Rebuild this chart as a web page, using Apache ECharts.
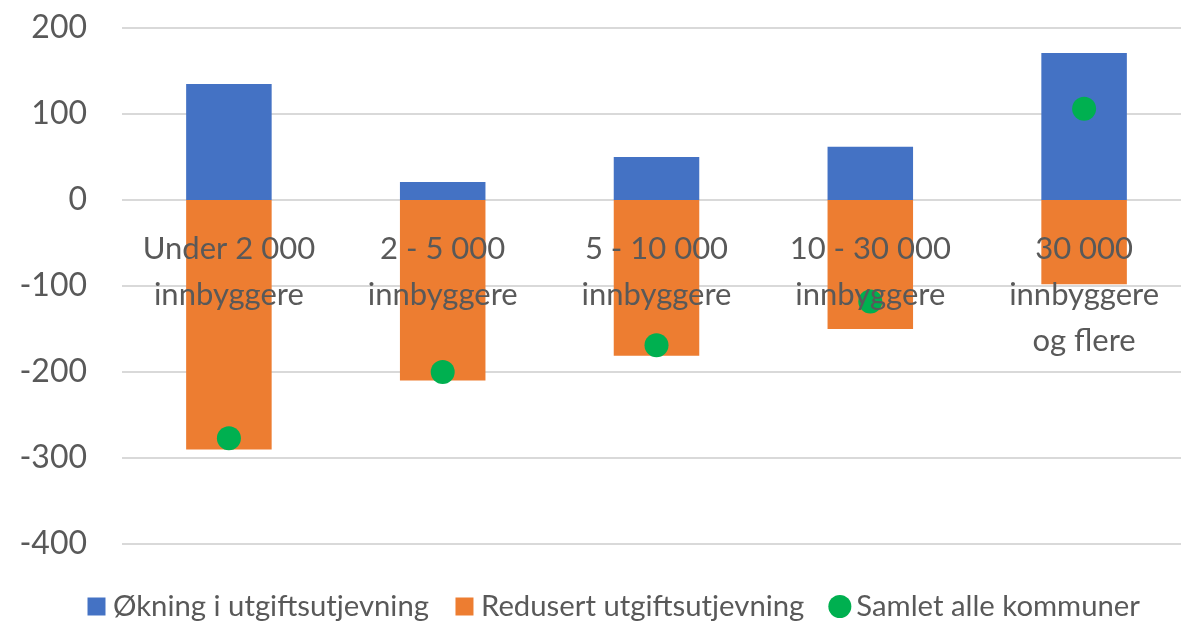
<!DOCTYPE html>
<html>
<head>
<meta charset="utf-8">
<script src="https://cdn.jsdelivr.net/npm/echarts@6/dist/echarts.min.js"></script>
<style>html,body{margin:0;padding:0;background:#fff}#c{width:1181px;height:622px}</style>
</head>
<body>
<div id="c"></div>
<script>
const categories = ["Under 2 000\ninnbyggere", "2 - 5 000\ninnbyggere", "5 - 10 000\ninnbyggere", "10 - 30 000\ninnbyggere", "30 000\ninnbyggere\nog flere"];
const okning = [135, 21, 50, 62, 171];
const redusert = [-290, -210, -181, -150, -98];
const samlet = [-277, -200, -169, -118, 106];
const seriesNames = ["Økning i utgiftsutjevning", "Redusert utgiftsutjevning", "Samlet alle kommuner"];

const chart = echarts.init(document.getElementById('c'), null, {renderer: 'canvas'});
const txt = '#595959';
const font = 'Lato';
const squareIcon = 'path://M0,0L0,0M23,23L23,23M2.5,2.5H20.5V20.5H2.5Z';
chart.setOption({
  animation: false,
  grid: {left: 122, right: -10, top: 28, bottom: 78, containLabel: false, outerBoundsMode: 'none'},
  xAxis: {
    type: 'category', data: categories, offset: -344, z: 10,
    axisLine: {show: false}, axisTick: {show: false},
    axisLabel: {interval: 0, color: txt, fontFamily: font, fontSize: 31, lineHeight: 46, margin: 26}
  },
  yAxis: {
    type: 'value', min: -400, max: 200, interval: 100,
    axisLine: {show: false}, axisTick: {show: false},
    axisLabel: {color: txt, fontFamily: font, fontSize: 32, margin: 35},
    splitLine: {lineStyle: {color: '#d9d9d9', width: 2}}
  },
  legend: {
    bottom: -4, left: 80, itemGap: 24, itemWidth: 23, itemHeight: 23,
    textStyle: {color: txt, fontFamily: font, fontSize: 29.3},
    data: [
      {name: seriesNames[0], icon: squareIcon},
      {name: seriesNames[1], icon: squareIcon},
      {name: seriesNames[2], icon: 'circle'}
    ]
  },
  series: [
    {name: seriesNames[0], type: 'bar', stack: 's', data: okning, barWidth: '40%', itemStyle: {color: '#4472c4'}},
    {name: seriesNames[1], type: 'bar', stack: 's', data: redusert, barWidth: '40%', itemStyle: {color: '#ed7d31'}},
    {name: seriesNames[2], type: 'scatter', data: samlet, symbolSize: 24, itemStyle: {color: '#00b050', opacity: 1}, z: 5}
  ]
});
</script>
</body>
</html>
